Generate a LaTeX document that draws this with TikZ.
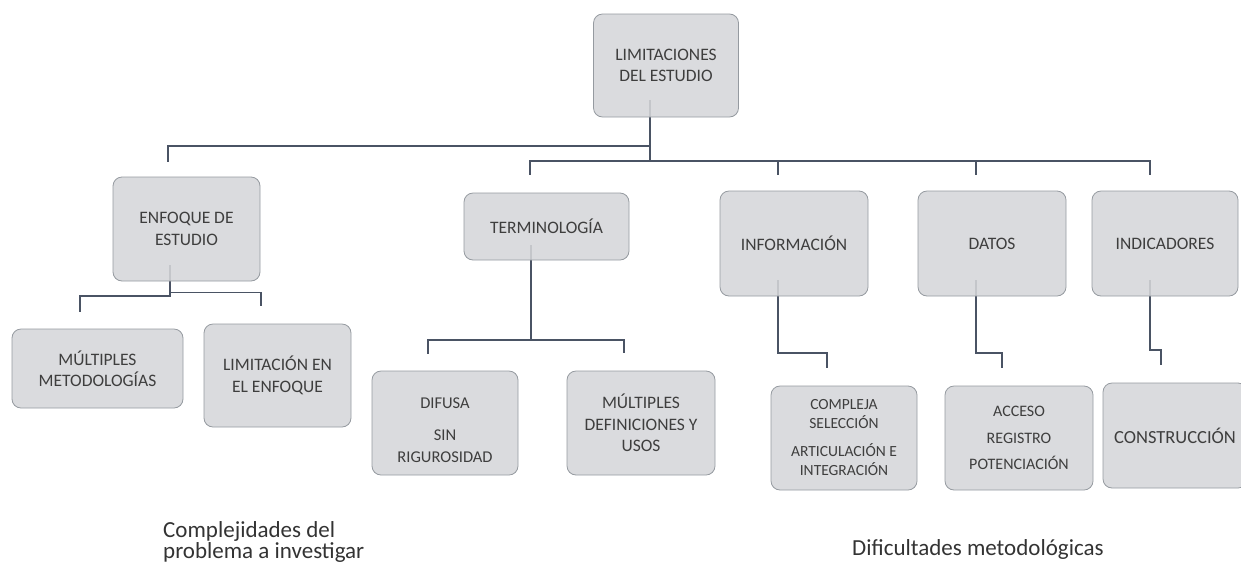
\documentclass[tikz,border=0pt]{standalone}
\usepackage{fontspec}
\setmainfont{Carlito}
\usetikzlibrary{backgrounds}

\definecolor{fondocaja}{HTML}{D5D6D9}
\definecolor{bordecaja}{HTML}{959AA0}
\definecolor{colorenlace}{HTML}{4A5364}
\definecolor{textocaja}{HTML}{3E3E3E}

\tikzset{
  caja/.style={draw=bordecaja, fill=fondocaja, fill opacity=0.88, text opacity=1,
    rounded corners=9pt, line width=0.8pt, inner sep=0pt, align=center,
    text=textocaja, font=\fontsize{17.5}{21.5}\selectfont},
  cajachica/.style={caja, font=\fontsize{15.5}{19}\selectfont},
  texto/.style={inner sep=0pt, align=center, text=textocaja},
  nota/.style={inner sep=0pt, align=left, text=black!80, font=\fontsize{23}{19.5}\selectfont},
  enlace/.style={draw=colorenlace, line width=1.8pt},
}

\begin{document}
\begin{tikzpicture}[x=1pt, y=-1pt]

  \useasboundingbox (0,0) rectangle (1241,571);

  % --- raiz ---
  \node[caja, minimum width=145, minimum height=103] (limit) at (666,65.5)
    {LIMITACIONES\\DEL ESTUDIO};

  % --- rama izquierda ---
  \node[caja, minimum width=147, minimum height=104] (enfoque) at (186.5,229)
    {ENFOQUE DE\\ESTUDIO};
  \node[caja, minimum width=171, minimum height=79] (multi) at (97.5,368.5)
    {MÚLTIPLES\\METODOLOGÍAS};
  \node[caja, minimum width=147, minimum height=103] (limenf) at (277.5,375.5)
    {LIMITACIÓN EN\\EL ENFOQUE};

  % --- terminologia ---
  \node[caja, minimum width=165, minimum height=67] (termino) at (546.5,226.5)
    {TERMINOLOGÍA};
  \node[caja, minimum width=146, minimum height=104] (difusa) at (445,423) {};
  \node[texto, font=\fontsize{16.5}{22}\selectfont] (difusatxt) at ([yshift=-7pt]difusa.center)
    {DIFUSA\\[10pt]SIN\\RIGUROSIDAD};
  \node[caja, minimum width=148, minimum height=104] (defin) at (641,423)
    {MÚLTIPLES\\DEFINICIONES Y\\USOS};

  % --- dificultades ---
  \node[caja, minimum width=148, minimum height=105] (info) at (794,243.5) {INFORMACIÓN};
  \node[caja, minimum width=148, minimum height=105] (datos) at (992,243.5) {DATOS};
  \node[caja, minimum width=146, minimum height=105] (indic) at (1165,243.5) {INDICADORES};

  \node[cajachica, minimum width=146, minimum height=104] (compleja) at (844,438)
    {COMPLEJA\\SELECCIÓN\\[9pt]ARTICULACIÓN E\\INTEGRACIÓN};
  \node[cajachica, minimum width=148, minimum height=104, font=\fontsize{16}{26.5}\selectfont]
    (acceso) at (1019,438) {ACCESO\\REGISTRO\\POTENCIACIÓN};
  \node[caja, minimum width=144, minimum height=105, font=\fontsize{18.5}{22}\selectfont]
    (constru) at (1175,435.5) {CONSTRUCCIÓN};

  % --- notas al pie ---
  \node[nota, anchor=base west] (complej) at (163,558)
    {Complejidades del\\problema a investigar};
  \node[nota, anchor=base west] (metodo) at (852,555)
    {Dificultades metodológicas};

  % --- conectores (detras de las cajas) ---
  \begin{scope}[on background layer]
    % raiz -> enfoque
    \draw[enlace] ([xshift=-16pt,yshift=17pt]limit.south)
      |- ([xshift=-18.5pt,yshift=31pt]enfoque.north)
      -- ([xshift=-18.5pt,yshift=15pt]enfoque.north);
    \draw[enlace] ([xshift=-16pt]limit.south) -- ([xshift=-16pt,yshift=-44pt]limit.south);

    % barra baja: terminologia ... indicadores
    \draw[enlace] ([xshift=-16.5pt,yshift=18pt]termino.north)
      |- ([xshift=-15pt,yshift=30pt]indic.north)
      -- ([xshift=-15pt,yshift=16pt]indic.north);
    \draw[enlace] ([xshift=-16pt,yshift=30pt]info.north) -- ([xshift=-16pt,yshift=16pt]info.north);
    \draw[enlace] ([xshift=-16pt,yshift=30pt]datos.north) -- ([xshift=-16pt,yshift=16pt]datos.north);

    % enfoque -> hijos
    \draw[enlace] ([xshift=-16.5pt,yshift=16pt]enfoque.south)
      |- ([xshift=-17.5pt,yshift=33pt]multi.north)
      -- ([xshift=-17.5pt,yshift=17pt]multi.north);
    \draw[enlace] ([xshift=-16.5pt,yshift=-11pt]enfoque.south)
      -| ([xshift=-16.5pt,yshift=18pt]limenf.north);

    % terminologia -> hijos
    \draw[enlace] ([xshift=-15.5pt,yshift=15pt]termino.south)
      -- ([xshift=-15.5pt,yshift=-80pt]termino.south);
    \draw[enlace] ([xshift=-17pt,yshift=17pt]difusa.north)
      |- ([xshift=-17pt,yshift=31pt]defin.north)
      -- ([xshift=-17pt,yshift=18pt]defin.north);

    % informacion, datos, indicadores -> hijos
    \draw[enlace] ([xshift=-16pt,yshift=16pt]info.south)
      |- ([xshift=-17pt,yshift=33pt]compleja.north)
      -- ([xshift=-17pt,yshift=18pt]compleja.north);
    \draw[enlace] ([xshift=-16pt,yshift=16pt]datos.south)
      |- ([xshift=-17pt,yshift=33pt]acceso.north)
      -- ([xshift=-17pt,yshift=18pt]acceso.north);
    \draw[enlace] ([xshift=-15pt,yshift=16pt]indic.south)
      |- ([xshift=-14pt,yshift=33pt]constru.north)
      -- ([xshift=-14pt,yshift=18pt]constru.north);
  \end{scope}

\end{tikzpicture}
\end{document}
